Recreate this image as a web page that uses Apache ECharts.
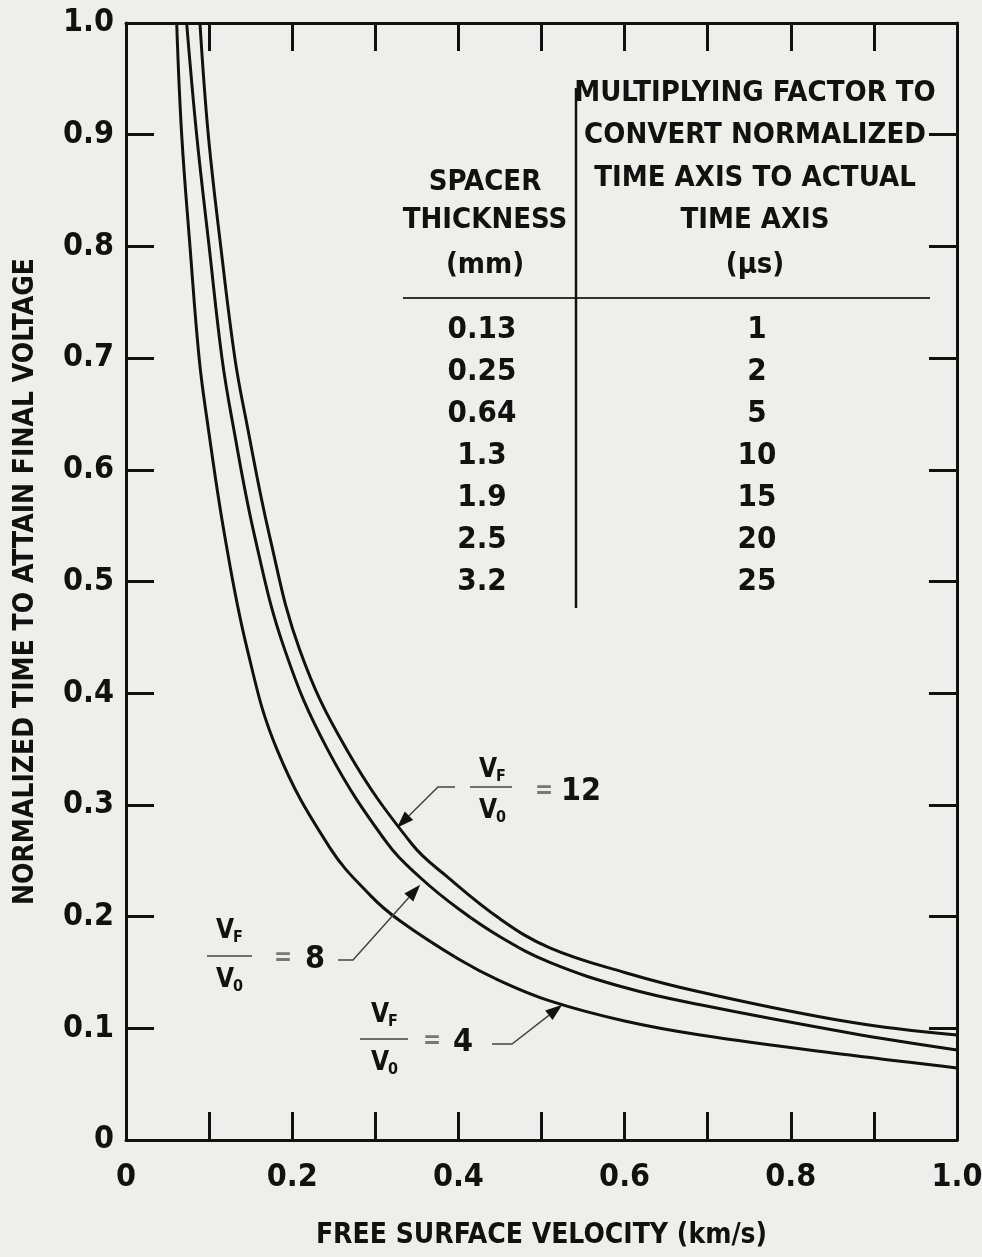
<!DOCTYPE html>
<html>
<head>
<meta charset="utf-8">
<script src="https://cdn.jsdelivr.net/npm/echarts@6/dist/echarts.min.js"></script>
<style>
html,body{margin:0;padding:0;background:#eeeeec;overflow:hidden;}
#chart{width:982px;height:1257px;}
</style>
</head>
<body>
<div id="chart"></div>
<script>
// ---- data ----
const vel4  = [0.061, 0.067, 0.077, 0.088, 0.0975, 0.119, 0.146, 0.182, 0.245, 0.294, 0.33, 0.40, 0.45, 0.51, 0.60, 0.691, 0.871, 1.0];
const time4 = [1.0, 0.90, 0.80, 0.70, 0.645, 0.54, 0.439, 0.349, 0.262, 0.219, 0.196, 0.162, 0.1425, 0.1245, 0.1065, 0.094, 0.076, 0.0645];
const vel8  = [0.073, 0.085, 0.100, 0.1155, 0.1276, 0.155, 0.191, 0.243, 0.315, 0.354, 0.40, 0.45, 0.51, 0.60, 0.691, 0.871, 1.0];
const time8 = [1.0, 0.90, 0.80, 0.70, 0.645, 0.54, 0.439, 0.349, 0.265, 0.235, 0.207, 0.182, 0.159, 0.1365, 0.121, 0.0958, 0.0806];
const vel12  = [0.089, 0.099, 0.114, 0.131, 0.1444, 0.173, 0.209, 0.266, 0.344, 0.386, 0.45, 0.51, 0.60, 0.691, 0.871, 1.0];
const time12 = [1.0, 0.90, 0.80, 0.70, 0.645, 0.54, 0.439, 0.349, 0.265, 0.236, 0.198, 0.172, 0.150, 0.1325, 0.1056, 0.094];

const ratioLabels = ['4', '8', '12'];
const spacerThickness = ['0.13', '0.25', '0.64', '1.3', '1.9', '2.5', '3.2'];
const multiplyingFactor = ['1', '2', '5', '10', '15', '20', '25'];
const headerLeft = ['SPACER', 'THICKNESS', '(mm)'];
const headerRight = ['MULTIPLYING FACTOR TO', 'CONVERT NORMALIZED', 'TIME AXIS TO ACTUAL', 'TIME AXIS', '(\u03BCs)'];
const xAxisTitle = 'FREE SURFACE VELOCITY (km/s)';
const yAxisTitle = 'NORMALIZED TIME TO ATTAIN FINAL VOLTAGE';
// arrow tips in data coordinates (on the curves)
const arrowTip4 = [0.525, 0.121];
const arrowTip8 = [0.354, 0.2285];
const arrowTip12 = [0.326, 0.2795];

// ---- build ----
const FONT = "'Liberation Sans Narrow', 'DejaVu Sans Condensed', sans-serif";
const INK = '#111111';
const zip = (a, b) => a.map((v, i) => [v, b[i]]);

const chart = echarts.init(document.getElementById('chart'), null, {renderer: 'canvas'});

const lineSeries = (name, data) => ({
  type: 'line', name, data, showSymbol: false, symbol: 'none',
  smooth: 0.4, clip: true,
  lineStyle: {color: INK, width: 3}, silent: true, animation: false
});

const axisCommon = {
  type: 'value', min: 0, max: 1, interval: 0.1,
  axisLine: {show: true, onZero: false, lineStyle: {color: INK, width: 3}},
  axisTick: {show: true, inside: true, length: 28, lineStyle: {color: INK, width: 3}},
  splitLine: {show: false},
};

chart.setOption({
  backgroundColor: '#eeeeec',
  animation: false,
  grid: {left: 126, right: 25, top: 23, bottom: 117, containLabel: false, outerBoundsMode: 'none'},
  xAxis: [
    Object.assign({}, axisCommon, {
      position: 'bottom',
      name: xAxisTitle, nameLocation: 'middle', nameGap: 82,
      nameTextStyle: {fontFamily: FONT, fontWeight: 'bold', fontSize: 28, color: INK},
      axisLabel: {
        show: true, margin: 22, fontFamily: FONT, fontWeight: 'bold', fontSize: 32, color: INK,
        showMinLabel: true, showMaxLabel: true,
        formatter: v => {
          const k = Math.round(v * 10);
          if (k % 2 !== 0) return '';
          return k === 0 ? '0' : (k / 10).toFixed(1);
        }
      }
    }),
    Object.assign({}, axisCommon, {position: 'top', axisLabel: {show: false}})
  ],
  yAxis: [
    Object.assign({}, axisCommon, {
      position: 'left',
      name: yAxisTitle, nameLocation: 'middle', nameGap: 86, nameRotate: 90,
      nameTextStyle: {fontFamily: FONT, fontWeight: 'bold', fontSize: 28, color: INK},
      axisLabel: {
        show: true, margin: 12, fontFamily: FONT, fontWeight: 'bold', fontSize: 32, color: INK,
        showMinLabel: true, showMaxLabel: true,
        formatter: v => {
          const k = Math.round(v * 10);
          return k === 0 ? '0' : (k / 10).toFixed(1);
        }
      }
    }),
    Object.assign({}, axisCommon, {position: 'right', axisLabel: {show: false}})
  ],
  series: [
    lineSeries('VF/V0 = ' + ratioLabels[0], zip(vel4, time4)),
    lineSeries('VF/V0 = ' + ratioLabels[1], zip(vel8, time8)),
    lineSeries('VF/V0 = ' + ratioLabels[2], zip(vel12, time12))
  ]
});

// ---- table & annotations (graphic) ----
const g = [];
function txt(x, y, s, size, opts) {
  opts = opts || {};
  g.push({
    type: 'text', x, y, silent: true, z: 100,
    style: {
      text: s, fill: opts.fill || INK,
      fontFamily: FONT, fontWeight: opts.weight || 'bold', fontSize: size,
      align: opts.align || 'center', verticalAlign: 'middle'
    }
  });
}
function line(points, width, color) {
  g.push({type: 'polyline', silent: true, z: 100,
    shape: {points}, style: {stroke: color || INK, lineWidth: width, fill: null}});
}

// table
headerLeft.forEach((s, i) => txt(485, [182, 220, 265][i], s, 29));
headerRight.forEach((s, i) => txt(755, [93, 135, 178, 220, 265][i], s, 29));
spacerThickness.forEach((s, i) => txt(482, 330 + 42 * i, s, 31));
multiplyingFactor.forEach((s, i) => txt(757, 330 + 42 * i, s, 31));
line([[403, 298], [930, 298]], 2, '#333');
line([[576, 88], [576, 608]], 2.5, INK);

// fraction labels
function fraction(cx, cyTop, barY, barX0, barX1) {
  txt(cx, cyTop, 'V', 26);
  txt(cx + 13, cyTop + 7, 'F', 16);
  line([[barX0, barY], [barX1, barY]], 1.5, '#444');
  txt(cx, barY + 24, 'V', 26);
  txt(cx + 13, barY + 31, '0', 16);
}
function arrow(elbowStart, elbow, tipData) {
  const tip = chart.convertToPixel({gridIndex: 0}, tipData);
  const dx = tip[0] - elbow[0], dy = tip[1] - elbow[1];
  const len = Math.sqrt(dx * dx + dy * dy);
  const ux = dx / len, uy = dy / len;
  const L = 17, W = 6;
  const bx = tip[0] - ux * L, by = tip[1] - uy * L;
  line([elbowStart, elbow, [bx, by]], 1.5, '#444');
  g.push({type: 'polygon', silent: true, z: 101,
    shape: {points: [tip, [bx - uy * W, by + ux * W], [bx + uy * W, by - ux * W]]},
    style: {fill: INK}});
}

// VF/V0 = 12
fraction(488, 770, 787, 470, 512);
txt(544, 792, '=', 24, {fill: '#777'});
txt(581, 792, ratioLabels[2], 32);
arrow([455, 787], [438, 787], arrowTip12);

// VF/V0 = 8
fraction(225, 931, 956, 207, 252);
txt(283, 959, '=', 24, {fill: '#777'});
txt(315, 960, ratioLabels[1], 32);
arrow([338, 960], [353, 960], arrowTip8);

// VF/V0 = 4
fraction(380, 1015, 1039, 360, 408);
txt(432, 1042, '=', 24, {fill: '#777'});
txt(463, 1043, ratioLabels[0], 32);
arrow([492, 1044], [512, 1044], arrowTip4);

chart.setOption({graphic: {elements: g}});
</script>
</body>
</html>
